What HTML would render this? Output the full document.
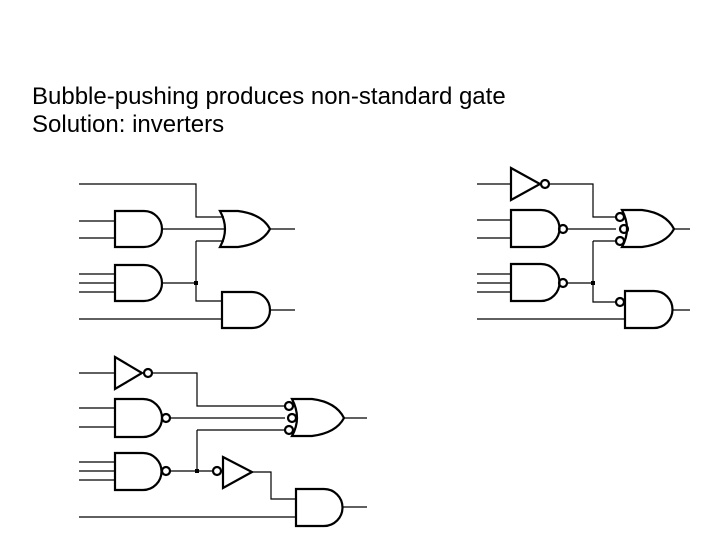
<!DOCTYPE html>
<html><head><style>
body{margin:0;background:#fff;width:720px;height:540px;overflow:hidden}
.t{position:absolute;left:32px;font-family:"Liberation Sans",sans-serif;font-size:24px;line-height:24px;color:#000;white-space:nowrap}
</style></head><body>
<div class="t" style="top:85px">Bubble-pushing produces non-standard gate</div>
<div class="t" style="top:113px">Solution: inverters</div>
<svg width="720" height="540" style="position:absolute;left:0;top:0" fill="none" stroke="#000">
<g stroke-width="1.2">
<path d="M79 184H196V217H224M79 221H115M79 238H115M162 229H226M79 274H115M79 283H115M79 292H115M162 283H196M196 241H224M196 241V301H222M79 319H222M270 229H295M270 310H295"/>
<path d="M477 184H511M549 184H593V217H616M477 220H511M477 238H511M567 229H616M593 241H616M477 274H511M477 283H511M477 292H511M567 283H593M593 241V302H616M477 319H625M674 229H690M672 310H690"/>
<path d="M79 373H115M152 373H197V406H285M79 408H115M79 427H115M170 418H285M197 430H285M79 462H115M79 471H115M79 480H115M170 471H213M197 430V471M252 472H271V499H296M79 517H296M344 418H367M342 507H367"/>
</g>
<g stroke-width="2.2">
<path d="M115 211H144A18 18 0 0 1 144 247H115Z"/>
<path d="M115 265H144A18 18 0 0 1 144 301H115Z"/>
<path d="M220 211H238Q262 214 270 229Q262 244 238 247H220Q230 229 220 211Z"/>
<path d="M222 292H252A18 18 0 0 1 252 328H222Z"/>
<path d="M511 168L540 184L511 200Z"/><circle cx="545" cy="184" r="4"/>
<path d="M511 210H541A18.5 18.5 0 0 1 541 247H511Z"/><circle cx="563" cy="229" r="4"/>
<path d="M511 264H541A18.5 18.5 0 0 1 541 301H511Z"/><circle cx="563" cy="283" r="4"/>
<path d="M622 210H642Q666 213 674 229Q666 244 642 247H622Q632 229 622 210Z"/>
<circle cx="620" cy="217" r="4"/><circle cx="624" cy="229" r="4"/><circle cx="620" cy="241" r="4"/>
<path d="M625 291H654A18.5 18.5 0 0 1 654 328H625Z"/><circle cx="620" cy="302" r="4"/>
<path d="M115 357L142 373L115 389Z"/><circle cx="148" cy="373" r="4"/>
<path d="M115 399H143A19 19 0 0 1 143 437H115Z"/><circle cx="166" cy="418" r="4"/>
<path d="M115 453H143A18.5 18.5 0 0 1 143 490H115Z"/><circle cx="166" cy="471" r="4"/>
<path d="M292 399H312Q336 402 344 418Q336 433 312 436H292Q302 418 292 399Z"/>
<circle cx="289" cy="406" r="4"/><circle cx="292" cy="418" r="4"/><circle cx="289" cy="430" r="4"/>
<path d="M223 457L252 472L223 488Z"/><circle cx="217" cy="471" r="4"/>
<path d="M296 489H324A18.5 18.5 0 0 1 324 526H296Z"/>
</g>
<g fill="#000" stroke="none">
<rect x="194" y="281" width="4" height="4"/><rect x="591" y="281" width="4" height="4"/><rect x="195" y="469" width="4" height="4"/>
</g>
</svg>
</body></html>
